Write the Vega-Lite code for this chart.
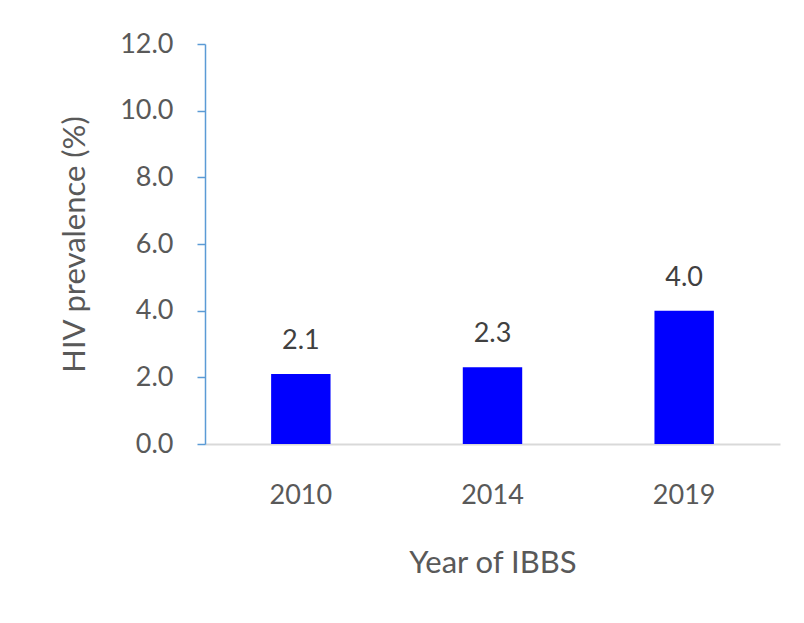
{
  "$schema": "https://vega.github.io/schema/vega-lite/v6.json",
  "width": 575,
  "height": 400,
  "autosize": {"type": "none"},
  "padding": {"left": 205, "top": 44, "right": 24, "bottom": 179},
  "background": "white",
  "config": {"view": {"stroke": null}, "font": "Lato"},
  "data": {"values": [
    {"year": "2010", "prevalence": 2.1},
    {"year": "2014", "prevalence": 2.3},
    {"year": "2019", "prevalence": 4.0}
  ]},
  "encoding": {
    "x": {
      "field": "year", "type": "nominal", "sort": null,
      "scale": {"paddingInner": 0.69, "paddingOuter": 0.345},
      "axis": {
        "title": "Year of IBBS", "labelAngle": 0, "ticks": false,
        "domainColor": "#d9d9d9", "domainWidth": 2,
        "labelFontSize": 27, "labelColor": "#595959", "labelPadding": 38, "labelFont": "Lato",
        "titleFontSize": 31, "titleColor": "#595959", "titleFontWeight": "normal", "titleFont": "Lato",
        "titleX": 287.5, "titleY": 119, "titleBaseline": "middle"
      }
    },
    "y": {
      "field": "prevalence", "type": "quantitative",
      "scale": {"domain": [0, 12], "nice": false},
      "axis": {
        "title": "HIV prevalence (%)", "values": [0, 2, 4, 6, 8, 10, 12], "format": ".1f",
        "grid": false, "domainColor": "#5b9bd5", "domainWidth": 1.5,
        "tickColor": "#5b9bd5", "tickWidth": 1.5, "tickSize": 8,
        "labelFontSize": 27, "labelColor": "#595959", "labelPadding": 24, "labelFont": "Lato",
        "titleFontSize": 31, "titleColor": "#595959", "titleFontWeight": "normal", "titleFont": "Lato",
        "titleX": -130, "titleY": 200, "titleBaseline": "middle", "titleAngle": -90
      }
    }
  },
  "layer": [
    {"mark": {"type": "bar", "color": "#0000ff"}},
    {
      "mark": {"type": "text", "baseline": "middle", "dy": -33, "fontSize": 27, "color": "#404040", "font": "Lato"},
      "encoding": {"text": {"field": "prevalence", "type": "quantitative", "format": ".1f"}}
    }
  ]
}
